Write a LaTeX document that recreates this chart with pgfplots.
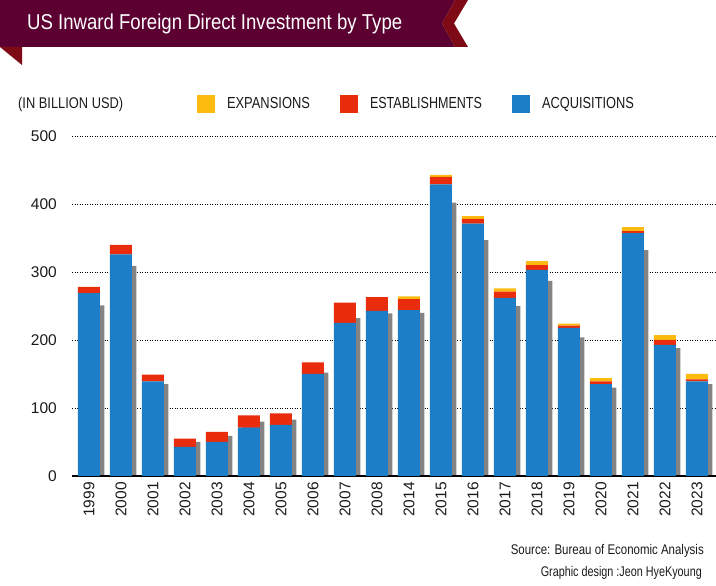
\documentclass[border=0pt]{standalone}
\usepackage{fontspec}
\setmainfont{Liberation Sans}
\usepackage{graphicx}
\usepackage{pgfplots}
\usepackage{pgfplotstable}
\pgfplotsset{compat=1.18}
\definecolor{banner}{HTML}{5C0032}
\definecolor{fold}{HTML}{7D0A14}
\definecolor{acq}{HTML}{1B7EC6}
\definecolor{est}{HTML}{E82C0C}
\definecolor{exp}{HTML}{FDBB10}
\definecolor{shadow}{HTML}{848484}
\definecolor{txt}{HTML}{1A1A1A}
\pgfplotstableread{
x A E X S
0 269 9 0 251
1 326 14 0 309
2 139 10 0 135
3 43 12 0 50
4 50 15 0 59
5 71 18 0 80
6 75 17 0 83
7 150 17 0 152
8 225 30 0 232
9 243 20 0 239
10 244 16 4 240
11 429 11 3 402
12 371 7 4 347
13 262 9 5 250
14 303 7 6 287
15 218 3 3 204
16 135 4 5 130
17 357 3 6 332
18 193 7 7 188
19 139 3 8 135
}\data
\newcommand{\tickfont}{\fontsize{15.5}{16}\selectfont}
\begin{document}
\begin{tikzpicture}
\path[use as bounding box] (0,0) rectangle (716pt,586pt);
\fill[banner] (0,586pt) -- (455pt,586pt) -- (442pt,562.5pt) -- (455pt,539pt) -- (0,539pt) -- cycle;
\fill[fold] (455pt,586pt) -- (468pt,586pt) -- (454pt,562.5pt) -- (468pt,539pt) -- (455pt,539pt) -- (442pt,562.5pt) -- cycle;
\fill[fold] (0,539pt) -- (22pt,539pt) -- (22pt,521pt) -- cycle;
\node[anchor=base west, inner sep=0pt, text=white] at (27pt,556.5pt)
  {\resizebox{375pt}{\height}{\fontsize{21.5}{22}\selectfont US Inward Foreign Direct Investment by Type}};
\node[anchor=base west, inner sep=0pt, text=txt] at (18pt,477pt)
  {\resizebox{105pt}{\height}{\fontsize{15.5}{16}\selectfont (IN BILLION USD)}};
\node[anchor=base east, inner sep=0pt, text=txt] at (704pt,31pt)
  {\resizebox{193pt}{\height}{\fontsize{14}{14}\selectfont Source: Bureau of Economic Analysis}};
\node[anchor=base east, inner sep=0pt, text=txt] at (702pt,9.5pt)
  {\resizebox{161pt}{\height}{\fontsize{14}{14}\selectfont Graphic design :Jeon HyeKyoung}};

\begin{axis}[
  at={(72pt,110pt)}, anchor=south west, scale only axis,
  width=644pt, height=340pt,
  xmin=-0.53, xmax=19.595, ymin=0, ymax=500,
  ybar, bar width=22pt,
  axis line style={draw=none},
  major tick length=0pt,
  ytick={0,100,200,300,400,500},
  xtick={0,...,19},
  xticklabels={1999,2000,2001,2002,2003,2004,2005,2006,2007,2008,2014,2015,2016,2017,2018,2019,2020,2021,2022,2023},
  ymajorgrids,
  grid style={black, line width=0.9pt, dash pattern=on 1.2pt off 1.3pt},
  /pgf/number format/assume math mode=true,
  yticklabel style={font=\tickfont, text=txt, anchor=east, inner sep=0pt},
  yticklabel shift=15pt,
  xticklabel style={font=\tickfont, text=txt, rotate=90, anchor=east, inner sep=0pt},
  xticklabel shift=6pt,
  clip=false,
]
\addplot[fill=shadow, draw=none, bar shift=4.5pt] table[x=x,y=S]{\data};
\end{axis}

\begin{axis}[
  at={(72pt,110pt)}, anchor=south west, scale only axis,
  width=644pt, height=340pt,
  xmin=-0.53, xmax=19.595, ymin=0, ymax=500,
  ybar stacked, bar width=22pt,
  axis x line*=bottom, axis y line=none,
  x axis line style={line width=2pt, black, -},
  xtick=\empty, ytick=\empty,
  legend image code/.code={\fill[#1] (0pt,-9pt) rectangle (18pt,9pt);},
  every axis plot post/.append style={legend image code/.code={\fill[##1] (0pt,-9pt) rectangle (18pt,9pt);}},
  legend columns=3, reverse legend,
  legend style={at={(axis description cs:0.1941,1.0941)}, anchor=west, draw=none, fill=none,
    inner sep=0pt, outer sep=0pt, nodes={inner sep=0pt, text=txt},
    /tikz/every odd column/.append style={column sep=12pt},
    /tikz/every even column/.append style={column sep=30pt}},
  clip=false,
]
\addplot[fill=acq, draw=none] table[x=x,y=A]{\data};
\addlegendentry{\resizebox{92pt}{\height}{\fontsize{16}{16}\selectfont ACQUISITIONS}}
\addplot[fill=est, draw=none] table[x=x,y=E]{\data};
\addlegendentry{\resizebox{112pt}{\height}{\fontsize{16}{16}\selectfont ESTABLISHMENTS}}
\addplot[fill=exp, draw=none] table[x=x,y=X]{\data};
\addlegendentry{\resizebox{83pt}{\height}{\fontsize{16}{16}\selectfont EXPANSIONS}}
\end{axis}
\end{tikzpicture}
\end{document}
